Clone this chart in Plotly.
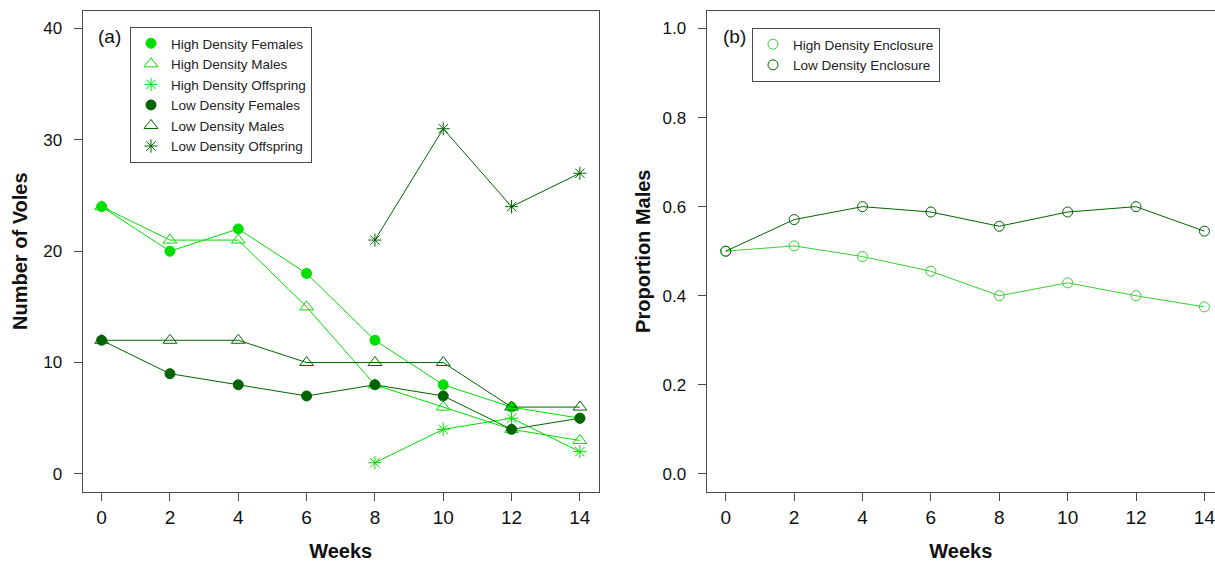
import plotly.graph_objects as go

# ---------------- data ----------------
weeks = [0, 2, 4, 6, 8, 10, 12, 14]
offspring_weeks = [8, 10, 12, 14]

hd_females = [24, 20, 22, 18, 12, 8, 6, 5]
hd_males = [24, 21, 21, 15, 8, 6, 4, 3]
hd_offspring = [1, 4, 5, 2]
ld_females = [12, 9, 8, 7, 8, 7, 4, 5]
ld_males = [12, 12, 12, 10, 10, 10, 6, 6]
ld_offspring = [21, 31, 24, 27]

prop_hd = [0.500, 0.512, 0.488, 0.455, 0.400, 0.429, 0.400, 0.375]
prop_ld = [0.500, 0.571, 0.600, 0.588, 0.556, 0.588, 0.600, 0.545]

y_ticks_a = [0, 10, 20, 30, 40]
y_ticks_b = [0.0, 0.2, 0.4, 0.6, 0.8, 1.0]
y_ticktext_b = ["0.0", "0.2", "0.4", "0.6", "0.8", "1.0"]
x_ticks = [0, 2, 4, 6, 8, 10, 12, 14]

# ---------------- style ----------------
W, H = 1215, 562
HD = "#00E000"
HD_B = "#35CF35"
LD = "#006400"
BOX = "#4a4a4a"
FONT = "Liberation Sans, Arial, sans-serif"

fig = go.Figure()


def add_series(x, y, name, color, symbol, size, xa, ya, legend):
    fig.add_trace(go.Scatter(
        x=x, y=y, mode="lines", line=dict(color=color, width=1),
        showlegend=False, hoverinfo="skip", xaxis=xa, yaxis=ya))
    fig.add_trace(go.Scatter(
        x=x, y=y, mode="markers", name=name,
        marker=dict(symbol=symbol, size=size, color=color,
                    line=dict(color=color, width=1)),
        xaxis=xa, yaxis=ya, legend=legend))


# panel (a)
add_series(weeks, hd_females, "High Density Females", HD, "circle", 10, "x", "y", "legend")
add_series(weeks, hd_males, "High Density Males", HD, "triangle-up-open", 12, "x", "y", "legend")
add_series(offspring_weeks, hd_offspring, "High Density Offspring", HD, "asterisk-open", 11, "x", "y", "legend")
add_series(weeks, ld_females, "Low Density Females", LD, "circle", 10, "x", "y", "legend")
add_series(weeks, ld_males, "Low Density Males", LD, "triangle-up-open", 12, "x", "y", "legend")
add_series(offspring_weeks, ld_offspring, "Low Density Offspring", LD, "asterisk-open", 11, "x", "y", "legend")

# panel (b)
add_series(weeks, prop_hd, "High Density Enclosure", HD_B, "circle-open", 10, "x2", "y2", "legend2")
add_series(weeks, prop_ld, "Low Density Enclosure", LD, "circle-open", 10, "x2", "y2", "legend2")

ydom = [1 - 491.7 / H, 1 - 10.7 / H]

axis_common = dict(
    showgrid=False, zeroline=False, showline=True, linecolor=BOX, linewidth=1,
    ticks="outside", ticklen=8, tickcolor=BOX, tickwidth=1,
    ticklabeloverflow="allow",
)

fig.update_layout(
    width=W, height=H,
    margin=dict(l=0, r=0, t=0, b=0),
    paper_bgcolor="white", plot_bgcolor="white",
    font=dict(family=FONT, color="#111"),
    xaxis=dict(domain=[82.5 / W, 599 / W], range=[-0.56, 14.56], mirror=True,
               tickvals=x_ticks, tickfont=dict(size=19), ticklabelstandoff=0,
               title=dict(text="<b>Weeks</b>", font=dict(size=20), standoff=19),
               anchor="y", **axis_common),
    yaxis=dict(domain=ydom, range=[-1.6, 41.6], mirror=True,
               tickvals=y_ticks_a, tickfont=dict(size=17), ticklabelstandoff=8,
               title=dict(text="<b>Number of Voles</b>", font=dict(size=20), standoff=10),
               anchor="x", **axis_common),
    xaxis2=dict(domain=[706.6 / W, 1.0], range=[-0.56, 14.31], mirror=True,
                tickvals=x_ticks, tickfont=dict(size=19), ticklabelstandoff=0,
                title=dict(text="<b>Weeks</b>", font=dict(size=20), standoff=19),
                anchor="y2", **axis_common),
    yaxis2=dict(domain=ydom, range=[-0.04, 1.04], mirror=False,
                tickvals=y_ticks_b, ticktext=y_ticktext_b, tickfont=dict(size=17),
                ticklabelstandoff=8,
                title=dict(text="<b>Proportion Males</b>", font=dict(size=20), standoff=6),
                anchor="x2", **axis_common),
    legend=dict(x=130 / W, y=1 - 27 / H, xanchor="left", yanchor="top",
                bgcolor="white", bordercolor=BOX, borderwidth=1,
                font=dict(size=13.5, color="#222"), tracegroupgap=0, itemwidth=30),
    legend2=dict(x=752 / W, y=1 - 28 / H, xanchor="left", yanchor="top",
                 bgcolor="white", bordercolor=BOX, borderwidth=1,
                 font=dict(size=13.5, color="#222"), tracegroupgap=0, itemwidth=30),
    annotations=[
        dict(text="(a)", x=109 / W, y=1 - 37 / H, xref="paper", yref="paper",
             xanchor="center", yanchor="middle", showarrow=False,
             font=dict(size=19, color="#111")),
        dict(text="(b)", x=734.5 / W, y=1 - 37 / H, xref="paper", yref="paper",
             xanchor="center", yanchor="middle", showarrow=False,
             font=dict(size=19, color="#111")),
    ],
)

fig.write_html(
    "out.html",
    config={"displayModeBar": False},
    post_script="document.body.style.margin='0';document.body.style.padding='0';"
                "document.body.style.overflow='hidden';",
)
